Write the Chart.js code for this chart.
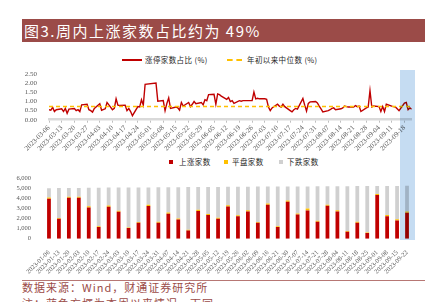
<!DOCTYPE html>
<html>
<head>
<meta charset="utf-8">
<script src="https://cdn.jsdelivr.net/npm/chart.js@4.4.0/dist/chart.umd.min.js"></script>
<style>
  body { margin: 0; width: 429px; height: 302px; overflow: hidden; background: #fff; position: relative;
         font-family: "Noto Sans CJK SC", sans-serif; }
  .abs { position: absolute; }
  #title { left: 22px; top: 19px; width: 403px; height: 23px; background: #9b4b48; color: #fff;
           font-size: 15px; line-height: 23px; padding-left: 2px; box-sizing: border-box; letter-spacing: 1.5px; white-space: nowrap; }
  .lg { font-size: 7.5px; color: #262626; line-height: 10px; white-space: nowrap; letter-spacing: 0.4px; }
  .sq { width: 4px; height: 4px; }
  #hl { left: 400px; top: 70px; width: 15px; height: 170px; background: rgb(197, 220, 242); mix-blend-mode: multiply; }
  #rule { left: 22px; top: 280px; width: 403px; height: 0; border-top: 1px solid #b77774; }
  .src { left: 22px; font-size: 11px; color: #9b4b48; letter-spacing: 1px; white-space: nowrap; line-height: 13px; }
</style>
</head>
<body>
<div id="title" class="abs">图3.周内上涨家数占比约为 49%</div>

<div class="abs" style="left:122px;top:59px;width:20px;height:0;border-top:2px solid #c00000"></div>
<div class="abs lg" style="left:145px;top:55px">涨停家数占比 (%)</div>
<div class="abs" style="left:227px;top:59px;width:15px;height:0;border-top:2px dashed #ffc000"></div>
<div class="abs lg" style="left:247px;top:55px">年初以来中位数 (%)</div>

<div class="abs sq" style="left:169px;top:160px;background:#c00000"></div>
<div class="abs lg" style="left:179px;top:157px">上涨家数</div>
<div class="abs sq" style="left:224px;top:160px;background:#ffc000"></div>
<div class="abs lg" style="left:232px;top:157px">平盘家数</div>
<div class="abs sq" style="left:279px;top:160px;background:#d0d0d0"></div>
<div class="abs lg" style="left:287px;top:157px">下跌家数</div>

<canvas id="lineChart" class="abs" style="left:0;top:50px" width="429" height="108"></canvas>
<canvas id="barChart" class="abs" style="left:0;top:165px" width="429" height="110"></canvas>
<div id="hl" class="abs"></div>

<div id="rule" class="abs"></div>
<div class="abs src" style="top:281px">数据来源：Wind，财通证券研究所</div>
<div class="abs src" style="top:297px">注：蓝色方框为本周以来情况，下同</div>

<script>
// daily line: limit-up share (%), trading days 2023-03-06 .. 2023-09-22
const startDay = '2023-03-06';
const endDay = '2023-09-22';
const holidays = ['2023-04-05', '2023-05-01', '2023-05-02', '2023-05-03', '2023-06-22', '2023-06-23'];
const limitUpShare = [
  0.55, 0.52, 0.68, 0.45, 0.55,
  0.60, 0.45, 0.62, 0.35, 0.58,
  0.62, 0.50, 0.55, 0.45, 0.82,
  0.85, 0.55, 0.50, 0.42, 0.62,
  0.88, 0.52, 0.60, 0.95,
  0.55, 0.62, 1.15, 0.80, 0.78,
  0.80, 0.50, 0.62, 0.45, 0.22,
  0.72, 0.70, 1.10, 0.80, 1.95,
  2.02, 1.02,
  1.05, 0.50, 0.90, 1.20, 0.62,
  0.70, 0.65, 0.52, 0.95, 0.75,
  0.95, 0.72, 0.85, 1.00, 0.88,
  0.95, 0.82, 1.10, 1.05, 1.38,
  1.40, 0.85, 1.42, 1.38, 1.30,
  1.12, 1.22, 1.00, 1.05, 0.90,
  1.05, 1.02, 1.05,
  1.05, 1.52, 1.15, 1.18, 1.15,
  1.15, 1.12, 0.70, 0.50, 0.65,
  0.85, 0.75, 0.70, 0.85, 0.72,
  0.50, 0.43, 0.55, 0.62, 0.58,
  1.17, 0.80, 0.48, 0.90, 0.98,
  1.00, 0.92, 0.75, 0.60, 0.43,
  0.50, 0.55, 0.62, 0.65, 0.55,
  0.60, 0.65, 0.75, 0.72, 0.70,
  0.70, 0.78, 0.72, 0.75, 0.45,
  0.65, 0.70, 1.60, 0.70, 0.75,
  0.72, 0.45, 0.72, 0.45, 0.85,
  0.75, 0.72, 0.70, 0.60, 0.50,
  0.92, 0.95, 0.55, 0.65, 0.58
];
const medianShare = 0.72;

// weekly bars
const weeks = ['2023-01-06','2023-01-13','2023-01-20','2023-02-03','2023-02-10','2023-02-17','2023-02-24',
  '2023-03-03','2023-03-10','2023-03-17','2023-03-24','2023-03-31','2023-04-07','2023-04-14','2023-04-21',
  '2023-04-28','2023-05-05','2023-05-12','2023-05-19','2023-05-26','2023-06-02','2023-06-09','2023-06-16',
  '2023-06-21','2023-06-30','2023-07-07','2023-07-14','2023-07-21','2023-07-28','2023-08-04','2023-08-11',
  '2023-08-18','2023-08-25','2023-09-01','2023-09-08','2023-09-15','2023-09-22'];
const upCounts = [4000,2000,4100,4100,3130,1170,3200,2700,1070,1600,3270,1600,2500,1930,830,2770,2370,2000,3220,
  2250,2730,1600,3400,1170,3700,2420,2830,1700,3290,2720,700,1600,570,4370,2250,1830,2600];
const flatCounts = [110,80,100,90,120,70,110,100,60,80,120,90,110,100,70,120,110,90,120,100,110,80,130,70,120,
  110,190,90,110,120,60,90,60,100,110,120,130];
const downCounts = [940,2980,870,890,1840,3860,1800,2310,3990,3440,1740,3450,2540,3120,4260,2270,2690,3090,1850,
  2840,2360,3530,1680,3980,1400,2700,2210,3450,1840,2410,4490,3570,4630,800,2910,3330,2560];

const DAY = 86400000;
const t0 = Date.parse(startDay + 'T00:00:00Z');
const t1 = Date.parse(endDay + 'T00:00:00Z');
function fmt(t) { return new Date(t).toISOString().slice(0, 10); }

const tradeDays = [];
for (let t = t0; t <= t1; t += DAY) {
  const wd = new Date(t).getUTCDay();
  if (wd === 0 || wd === 6 || holidays.includes(fmt(t))) continue;
  tradeDays.push((t - t0) / DAY);
}
const linePoints = tradeDays.map((d, i) => ({ x: d, y: limitUpShare[i] }));
const lastDay = (t1 - t0) / DAY;
const medianPoints = [{ x: 0, y: medianShare }, { x: lastDay, y: medianShare }];

const tickFont = { family: 'Liberation Serif', size: 7 };

new Chart(document.getElementById('lineChart'), {
  type: 'line',
  data: {
    datasets: [
      { label: '年初以来中位数（%）', data: medianPoints, borderColor: '#ffc000', borderWidth: 1.5,
        borderDash: [4, 3], pointRadius: 0, order: 0 },
      { label: '涨停家数占比（%）', data: linePoints, borderColor: '#c00000', borderWidth: 1.4,
        pointRadius: 0, tension: 0, order: 1 }
    ]
  },
  options: {
    responsive: false,
    animation: false,
    layout: { padding: { top: 24.3, right: 17.3, left: 0, bottom: 0 } },
    plugins: { legend: { display: false }, tooltip: { enabled: false } },
    scales: {
      x: {
        type: 'linear', min: 0, max: lastDay,
        afterFit: s => { s.height = 38.3; },
        grid: { drawOnChartArea: false, tickLength: 3, color: '#bfbfbf' },
        border: { color: '#d9d9d9', width: 2.5 },
        ticks: {
          stepSize: 7, includeBounds: false, autoSkip: false, minRotation: 45, maxRotation: 45, padding: 1,
          font: tickFont, color: '#595959',
          callback: v => fmt(t0 + v * DAY)
        }
      },
      y: {
        min: 0, max: 2.5,
        afterFit: s => { s.width = 49; },
        grid: { display: false }, border: { display: false },
        ticks: { stepSize: 0.5, autoSkip: false, padding: 4, font: tickFont, color: '#595959',
                 callback: v => v.toFixed(2) }
      }
    }
  }
});

new Chart(document.getElementById('barChart'), {
  type: 'bar',
  data: {
    labels: weeks,
    datasets: [
      { label: '上涨家数', data: upCounts, backgroundColor: '#c00000' },
      { label: '平盘家数', data: flatCounts, backgroundColor: '#ffc000' },
      { label: '下跌家数', data: downCounts, backgroundColor: '#d0d0d0' }
    ]
  },
  options: {
    responsive: false,
    animation: false,
    layout: { padding: { top: 13.7, right: 17, left: 0, bottom: 0 } },
    datasets: { bar: { barPercentage: 0.76, categoryPercentage: 0.5 } },
    plugins: { legend: { display: false }, tooltip: { enabled: false } },
    scales: {
      x: {
        stacked: true,
        afterFit: s => { s.height = 36.3; },
        grid: { display: false }, border: { display: false },
        ticks: { autoSkip: false, minRotation: 45, maxRotation: 45, padding: 2,
                 font: { family: 'Liberation Serif', size: 6.5 }, color: '#595959' }
      },
      y: {
        stacked: true, min: 0, max: 6000,
        afterFit: s => { s.width = 44; },
        grid: { display: false }, border: { display: false },
        ticks: { stepSize: 1000, autoSkip: false, padding: 5, font: { family: 'Liberation Serif', size: 6.5 },
                 color: '#595959', callback: v => v.toLocaleString('en-US') }
      }
    }
  }
});
</script>
</body>
</html>
